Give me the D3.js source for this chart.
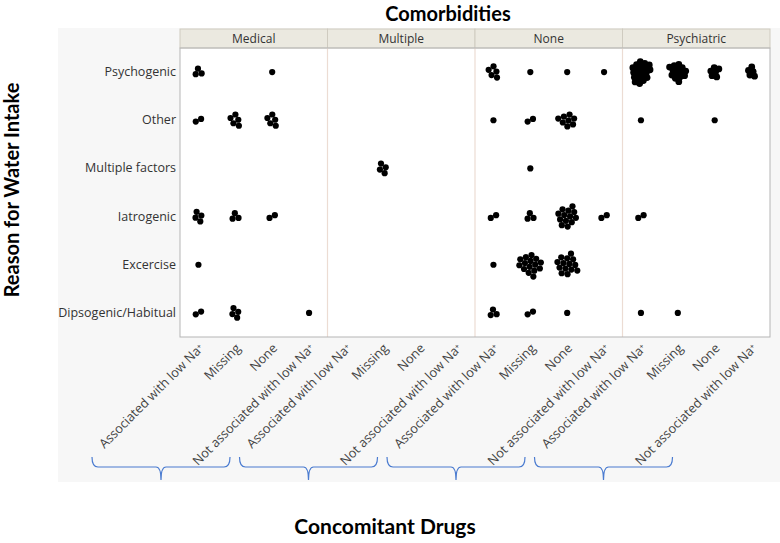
<!DOCTYPE html>
<html><head><meta charset="utf-8">
<script src="https://cdn.jsdelivr.net/npm/d3@7"></script>
<style>body{margin:0;background:#fff}</style>
</head><body><svg id="c" width="780" height="543"></svg>
<script>
const comorbidities = ["Medical","Multiple","None","Psychiatric"];
const drugs = ["Associated with low Na⁺","Missing","None","Not associated with low Na⁺"];
const reasons = ["Psychogenic","Other","Multiple factors","Iatrogenic","Excercise","Dipsogenic/Habitual"];
// counts per reason (rows) x drug (columns)
const medicalCounts = [
  [3,0,1,0],
  [2,5,5,0],
  [0,0,0,0],
  [4,3,2,0],
  [1,0,0,0],
  [2,4,0,1]
];
const multipleCounts = [
  [0,0,0,0],
  [0,0,0,0],
  [0,4,0,0],
  [0,0,0,0],
  [0,0,0,0],
  [0,0,0,0]
];
const noneCounts = [
  [5,1,1,1],
  [1,2,8,0],
  [0,1,0,0],
  [2,3,13,2],
  [1,15,14,0],
  [3,2,1,0]
];
const psychiatricCounts = [
  [20,14,6,5],
  [1,0,1,0],
  [0,0,0,0],
  [2,0,0,0],
  [0,0,0,0],
  [1,1,0,0]
];
const countsByComorbidity = [medicalCounts, multipleCounts, noneCounts, psychiatricCounts];

const svg = d3.select("#c");
const L = 180, R = 770, T = 48, B = 337, headerTop = 29;
const lblFont = "'Open Sans',sans-serif";

svg.append("rect").attr("x",58).attr("y",28).attr("width",722).attr("height",454).attr("fill","#f7f7f7");

const outer = d3.scaleBand().domain(comorbidities).range([L,R]);
const inner = d3.scaleBand().domain(drugs).range([0,outer.bandwidth()]);
const y = d3.scaleBand().domain(reasons).range([T,B]);

svg.append("rect").attr("x",L).attr("y",T).attr("width",R-L).attr("height",B-T).attr("fill","#fff");

// headers
const hdr = svg.append("g");
comorbidities.forEach(c=>{
  hdr.append("rect").attr("x",outer(c)).attr("y",headerTop).attr("width",outer.bandwidth()).attr("height",T-headerTop)
    .attr("fill","#ebe9e0").attr("stroke","#cfcbc0").attr("stroke-width",1);
  hdr.append("text").attr("x",outer(c)+outer.bandwidth()/2).attr("y",(headerTop+T)/2).attr("dy","0.35em")
    .attr("text-anchor","middle").attr("font-family",lblFont).attr("font-size",12).attr("fill","#333").text(c);
});
comorbidities.slice(1).forEach(c=>{
  svg.append("line").attr("x1",outer(c)).attr("x2",outer(c)).attr("y1",T).attr("y2",B).attr("stroke","#ecdcd3").attr("stroke-width",1.2);
});
svg.append("rect").attr("x",L).attr("y",T).attr("width",R-L).attr("height",B-T).attr("fill","none").attr("stroke","#b5b5b5");

// y axis
const yAxis = svg.append("g").attr("transform",`translate(${L-3},0)`).call(d3.axisLeft(y).tickSize(0).tickPadding(1));
yAxis.select(".domain").remove();
yAxis.selectAll("text").attr("font-family",lblFont).attr("font-size",12.5).attr("fill","#333");

// x axes
comorbidities.forEach(c=>{
  const g = svg.append("g").attr("transform",`translate(${outer(c)},${B})`).call(d3.axisBottom(inner).tickSize(0).tickPadding(0));
  g.select(".domain").remove();
  g.selectAll("text").attr("font-family",lblFont).attr("font-size",12.8).attr("fill","#444")
    .attr("text-anchor","end").attr("dy",0).attr("y",0)
    .attr("transform","translate(6,12) rotate(-45)");
});

// points via force layout (beeswarm-style packing)
const nodes = [];
comorbidities.forEach((c,ci)=>{
  countsByComorbidity[ci].forEach((row,ri)=>{
    row.forEach((n,di)=>{
      const cx = outer(c)+inner(drugs[di])+inner.bandwidth()/2;
      const cy = y(reasons[ri])+y.bandwidth()/2;
      for(let k=0;k<n;k++) nodes.push({cx,cy,c,n,k});
    });
  });
});
nodes.forEach(d=>{ const a=d.k*2.39996, r=2*Math.sqrt(d.k+0.5); d.x=d.cx+r*Math.cos(a); d.y=d.cy+r*Math.sin(a); });
const sim = d3.forceSimulation(nodes)
  .force("x", d3.forceX(d=>d.cx).strength(0.08))
  .force("y", d3.forceY(d=>d.cy).strength(0.08))
  .force("col", d3.forceCollide(d=> d.c==="Psychiatric" && d.n>3 ? 2.4 : 3.0).iterations(3))
  .stop();
for(let i=0;i<400;i++) sim.tick();
svg.append("g").selectAll("circle").data(nodes).join("circle")
  .attr("cx",d=>d.x).attr("cy",d=>d.y).attr("r",d=> d.c==="Psychiatric" && d.n>3 ? 3.4 : 3.1).attr("fill","#000");

// braces
comorbidities.forEach(c=>{
  const x0 = outer(c)-88, x1 = outer(c)+50, m=(x0+x1)/2;
  const yt=457, yh=467, yb=480;
  svg.append("path").attr("d",`M${x0},${yt} Q${x0},${yh} ${x0+6},${yh} L${m-5},${yh} Q${m},${yh} ${m},${yb} Q${m},${yh} ${m+5},${yh} L${x1-6},${yh} Q${x1},${yh} ${x1},${yt}`)
    .attr("fill","none").attr("stroke","#4a7bd0").attr("stroke-width",1.2);
});

// titles
const tf = "Lato,sans-serif";
svg.append("text").attr("x",448).attr("y",21).attr("text-anchor","middle").attr("font-family",tf).attr("font-weight","bold").attr("font-size",20).attr("fill","#000").text("Comorbidities");
svg.append("text").attr("x",385).attr("y",534).attr("text-anchor","middle").attr("font-family",tf).attr("font-weight","bold").attr("font-size",21).attr("fill","#000").text("Concomitant Drugs");
svg.append("text").attr("transform","translate(19,190) rotate(-90)").attr("text-anchor","middle").attr("font-family",tf).attr("font-weight","bold").attr("font-size",20).attr("fill","#000").text("Reason for Water Intake");
</script></body></html>
